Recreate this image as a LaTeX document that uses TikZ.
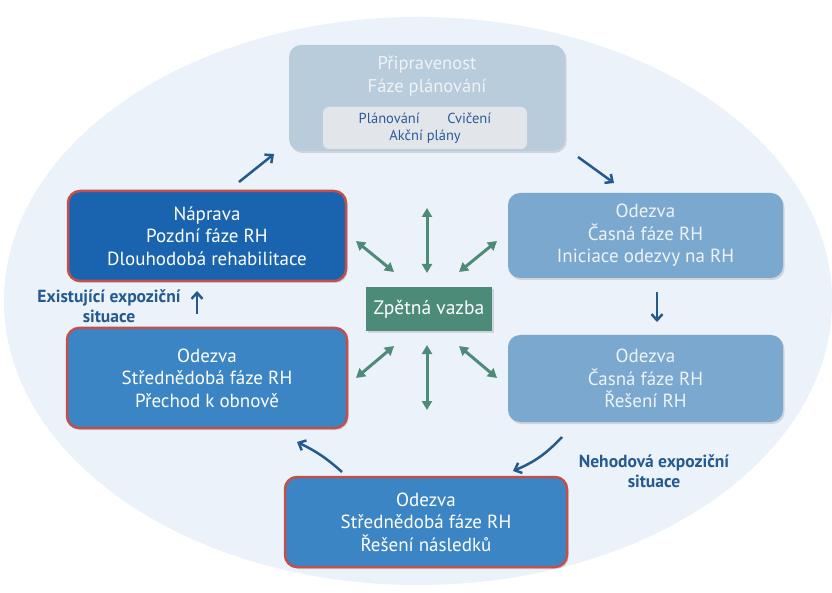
\documentclass[tikz,border=0pt]{standalone}
\usepackage{fontspec}
\setmainfont{PT Sans}
\usetikzlibrary{arrows.meta,shadows}
\definecolor{bgell}{HTML}{EBF2F9}
\definecolor{topfill}{HTML}{B9CCDC}
\definecolor{innerfill}{HTML}{E2E5E9}
\definecolor{lightfill}{HTML}{7BA8CF}
\definecolor{darkfill}{HTML}{1A63AF}
\definecolor{midfill}{HTML}{3C85C4}
\definecolor{redline}{HTML}{C0504D}
\definecolor{greenfill}{HTML}{4C8B78}
\definecolor{arrowblue}{HTML}{245A8E}
\definecolor{textblue}{HTML}{2B5C9A}
\definecolor{paletext}{HTML}{EEF3F8}
\begin{document}
\begin{tikzpicture}[x=1pt,y=-1pt,
  softshadow/.style={drop shadow={shadow xshift=1.5pt, shadow yshift=-2pt, opacity=0.12, fill=black}},
  phasebox/.style={rectangle, rounded corners=12pt, align=center, inner sep=0pt,
    text=white, font=\fontsize{19}{22.5}\selectfont, softshadow},
  redbox/.style={phasebox, draw=redline, line width=2.5pt},
  flow/.style={draw=arrowblue, line width=2.5pt, -{Straight Barb[length=6pt,width=11pt]}},
  feed/.style={draw=greenfill, line width=3pt, {Triangle[length=9pt,width=10pt]}-{Triangle[length=9pt,width=10pt]}},
  situ/.style={text=arrowblue, align=center, font=\bfseries\fontsize{17.5}{20}\selectfont}
]
\useasboundingbox (0,0) rectangle (832,593);
\fill[white] (0,0) rectangle (832,593);
\fill[bgell] (418,301) ellipse [x radius=414, y radius=284];

% top box
\node[phasebox, fill=topfill, minimum width=276pt, minimum height=106pt] (prip) at (427,98) {};
\node[text=paletext, font=\fontsize{18.5}{23}\selectfont, align=center] (priptxt) at (427,76) {Připravenost\\Fáze plánování};
\node[rectangle, rounded corners=6pt, fill=innerfill, minimum width=204pt, minimum height=42pt, inner sep=0pt] (inner) at (425,128) {};
\node[text=textblue, font=\fontsize{14.5}{17.5}\selectfont, align=center] (innertxt) at (425,128) {Plánování\hspace{1.9em}Cvičení\\Akční plány};

% boxes
\node[redbox, fill=darkfill, minimum width=278pt, minimum height=90pt] (naprava) at (207,236) {Náprava\\Pozdní fáze RH\\Dlouhodobá rehabilitace};
\node[phasebox, fill=lightfill, text=paletext, minimum width=275pt, minimum height=85pt] (rtop) at (645.5,235.5) {Odezva\\Časná fáze RH\\Iniciace odezvy na RH};
\node[phasebox, fill=lightfill, text=paletext, minimum width=275pt, minimum height=87pt] (rbot) at (645.5,378.5) {Odezva\\Časná fáze RH\\Řešení RH};
\node[redbox, fill=midfill, minimum width=280pt, minimum height=100pt] (lbot) at (207,378) {Odezva\\Střednědobá fáze RH\\Přechod k obnově};
\node[redbox, fill=midfill, minimum width=282pt, minimum height=90pt] (bot) at (426,522) {Odezva\\Střednědobá fáze RH\\Řešení následků};

% feedback
\node[rectangle, fill=greenfill, text=white, minimum width=126pt, minimum height=44pt, inner sep=0pt, font=\fontsize{19.5}{22}\selectfont, softshadow] (zpet) at (429,309) {Zpětná vazba};

% labels
\node[situ] (exist) at (109,306) {Existující expoziční\\situace};
\node[situ] (nehod) at (654,471) {Nehodová expoziční\\situace};

% flow arrow endpoints
\coordinate (a1s) at (239,182); \coordinate (a1e) at (274,154);
\coordinate (a2s) at (578,157); \coordinate (a2e) at (614,183);
\coordinate (a3s) at (657,292); \coordinate (a3e) at (657,322);
\coordinate (a4s) at (562,437); \coordinate (a4e) at (513,471);
\coordinate (a5s) at (342,472); \coordinate (a5e) at (297,442);
\coordinate (a6s) at (197,314); \coordinate (a6e) at (197,291);

\draw[flow] (a1s) -- (a1e);
\draw[flow] (a2s) -- (a2e);
\draw[flow] (a3s) -- (a3e);
\draw[flow] (a4s) to[bend left=12] (a4e);
\draw[flow] (a5s) to[bend right=8] (a5e);
\draw[flow] (a6s) -- (a6e);

% feedback arrows
\coordinate (f1s) at (427,208); \coordinate (f1e) at (427,273);
\coordinate (f2s) at (356,241); \coordinate (f2e) at (394,272);
\coordinate (f3s) at (497,241); \coordinate (f3e) at (459,272);
\coordinate (f4s) at (394,346); \coordinate (f4e) at (356,378);
\coordinate (f5s) at (459,346); \coordinate (f5e) at (497,378);
\coordinate (f6s) at (427,345); \coordinate (f6e) at (427,410);
\draw[feed] (f1s) -- (f1e);
\draw[feed] (f2s) -- (f2e);
\draw[feed] (f3s) -- (f3e);
\draw[feed] (f4s) -- (f4e);
\draw[feed] (f5s) -- (f5e);
\draw[feed] (f6s) -- (f6e);
\end{tikzpicture}
\end{document}
